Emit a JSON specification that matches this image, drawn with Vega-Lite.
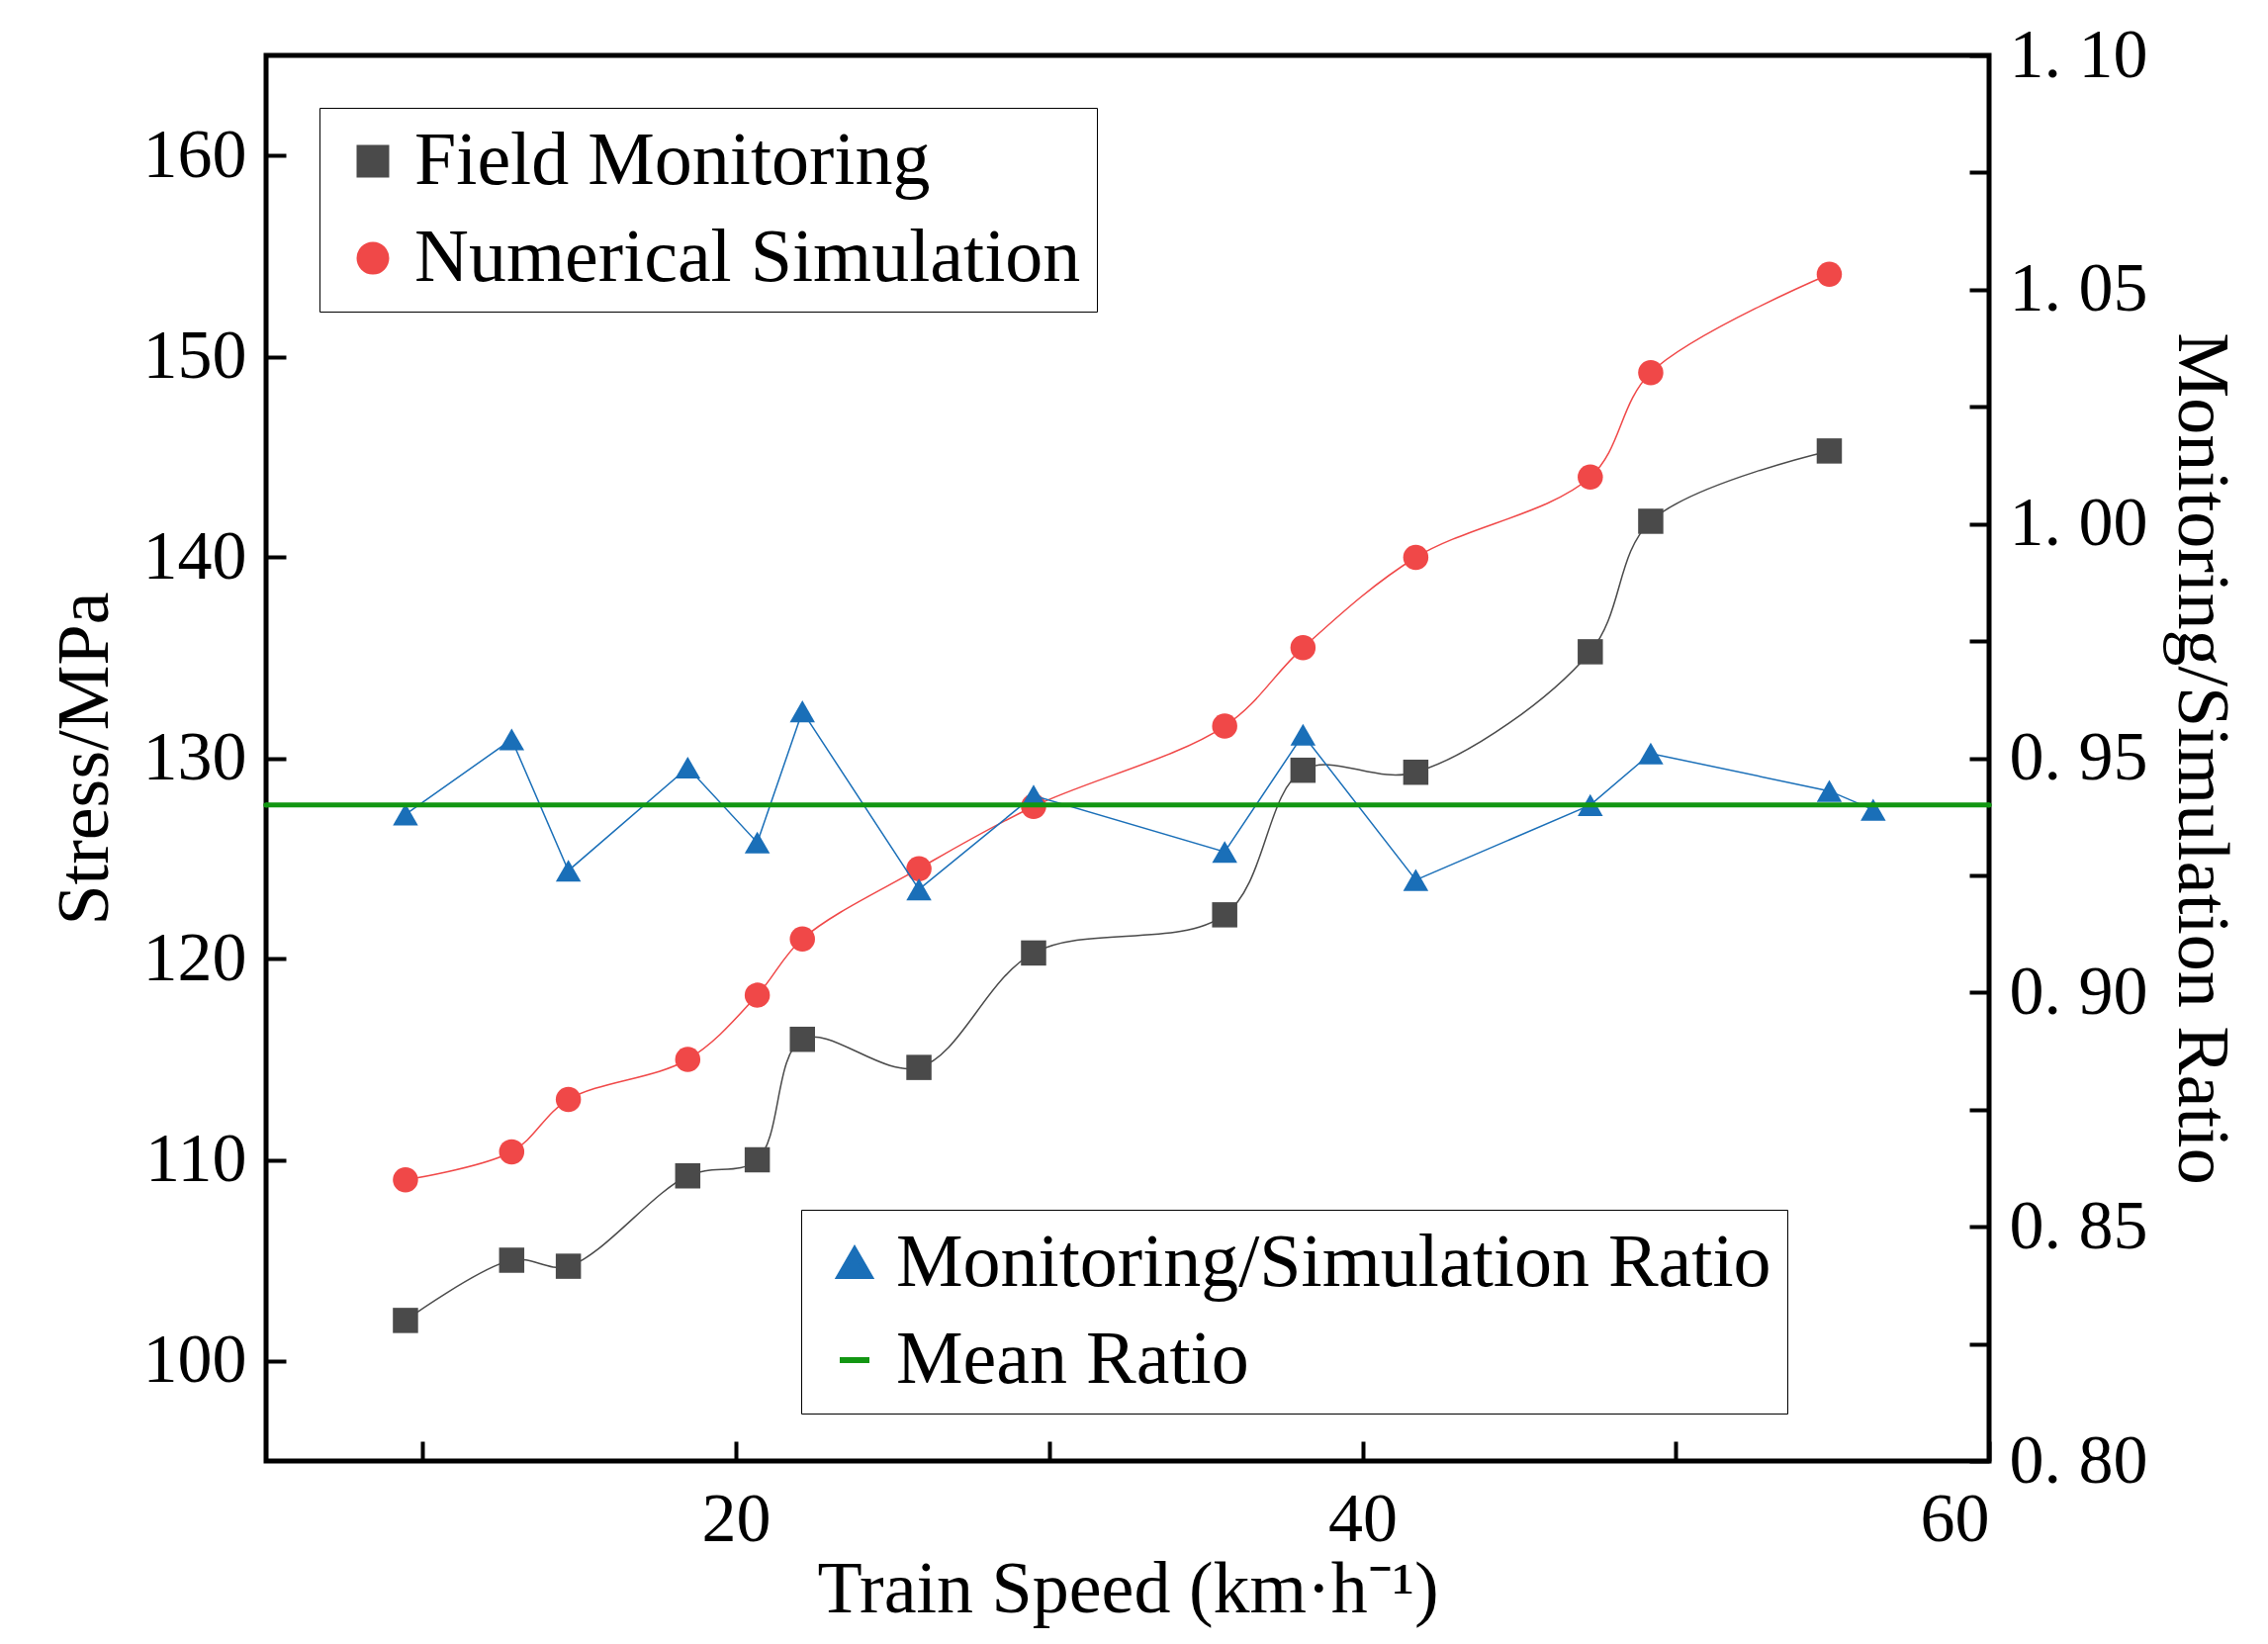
{
  "$schema": "https://vega.github.io/schema/vega-lite/v6.json",
  "width": 1742,
  "height": 1421,
  "autosize": {"type": "none"},
  "padding": {"left": 269, "top": 56, "right": 282, "bottom": 185},
  "background": "white",
  "config": {
    "font": "Liberation Serif",
    "view": {"stroke": "black", "strokeWidth": 5},
    "axis": {"labelFont": "Liberation Serif", "titleFont": "Liberation Serif", "labelFontSize": 70, "titleFontSize": 74, "titleFontWeight": "normal", "labelColor": "black", "titleColor": "black", "domain": false, "grid": false, "tickColor": "black", "tickWidth": 4, "tickSize": -20, "labelPadding": 40},
    "legend": {"labelFont": "Liberation Serif", "labelFontSize": 76, "labelColor": "black", "strokeColor": "black", "fillColor": "white", "padding": 16, "rowPadding": 22, "symbolSize": 900, "symbolStrokeWidth": 3, "labelLimit": 1300}
  },
  "datasets": {
    "stress": [
      {"speed": 9.45, "stress": 102.0, "series": "Field Monitoring"},
      {"speed": 12.84, "stress": 105.0, "series": "Field Monitoring"},
      {"speed": 14.65, "stress": 104.7, "series": "Field Monitoring"},
      {"speed": 18.46, "stress": 109.2, "series": "Field Monitoring"},
      {"speed": 20.68, "stress": 110.0, "series": "Field Monitoring"},
      {"speed": 22.12, "stress": 116.0, "series": "Field Monitoring"},
      {"speed": 25.84, "stress": 114.6, "series": "Field Monitoring"},
      {"speed": 29.5, "stress": 120.3, "series": "Field Monitoring"},
      {"speed": 35.6, "stress": 122.2, "series": "Field Monitoring"},
      {"speed": 38.1, "stress": 129.4, "series": "Field Monitoring"},
      {"speed": 41.7, "stress": 129.3, "series": "Field Monitoring"},
      {"speed": 47.27, "stress": 135.3, "series": "Field Monitoring"},
      {"speed": 49.2, "stress": 141.8, "series": "Field Monitoring"},
      {"speed": 54.9, "stress": 145.3, "series": "Field Monitoring"},
      {"speed": 9.45, "stress": 109.0, "series": "Numerical Simulation"},
      {"speed": 12.84, "stress": 110.4, "series": "Numerical Simulation"},
      {"speed": 14.65, "stress": 113.0, "series": "Numerical Simulation"},
      {"speed": 18.46, "stress": 115.0, "series": "Numerical Simulation"},
      {"speed": 20.68, "stress": 118.2, "series": "Numerical Simulation"},
      {"speed": 22.12, "stress": 121.0, "series": "Numerical Simulation"},
      {"speed": 25.84, "stress": 124.5, "series": "Numerical Simulation"},
      {"speed": 29.5, "stress": 127.6, "series": "Numerical Simulation"},
      {"speed": 35.6, "stress": 131.6, "series": "Numerical Simulation"},
      {"speed": 38.1, "stress": 135.5, "series": "Numerical Simulation"},
      {"speed": 41.7, "stress": 140.0, "series": "Numerical Simulation"},
      {"speed": 47.27, "stress": 144.0, "series": "Numerical Simulation"},
      {"speed": 49.2, "stress": 149.2, "series": "Numerical Simulation"},
      {"speed": 54.9, "stress": 154.1, "series": "Numerical Simulation"}
    ],
    "ratio": [
      {"speed": 9.45, "ratio": 0.938, "series": "Monitoring/Simulation Ratio"},
      {"speed": 12.84, "ratio": 0.954, "series": "Monitoring/Simulation Ratio"},
      {"speed": 14.65, "ratio": 0.926, "series": "Monitoring/Simulation Ratio"},
      {"speed": 18.46, "ratio": 0.948, "series": "Monitoring/Simulation Ratio"},
      {"speed": 20.68, "ratio": 0.932, "series": "Monitoring/Simulation Ratio"},
      {"speed": 22.12, "ratio": 0.960, "series": "Monitoring/Simulation Ratio"},
      {"speed": 25.84, "ratio": 0.922, "series": "Monitoring/Simulation Ratio"},
      {"speed": 29.5, "ratio": 0.942, "series": "Monitoring/Simulation Ratio"},
      {"speed": 35.6, "ratio": 0.930, "series": "Monitoring/Simulation Ratio"},
      {"speed": 38.1, "ratio": 0.955, "series": "Monitoring/Simulation Ratio"},
      {"speed": 41.7, "ratio": 0.924, "series": "Monitoring/Simulation Ratio"},
      {"speed": 47.27, "ratio": 0.940, "series": "Monitoring/Simulation Ratio"},
      {"speed": 49.2, "ratio": 0.951, "series": "Monitoring/Simulation Ratio"},
      {"speed": 54.9, "ratio": 0.943, "series": "Monitoring/Simulation Ratio"},
      {"speed": 56.3, "ratio": 0.939, "series": "Monitoring/Simulation Ratio"}
    ],
    "mean": [
      {"speed": 5, "ratio": 0.940, "series": "Mean Ratio"},
      {"speed": 60, "ratio": 0.940, "series": "Mean Ratio"}
    ]
  },
  "encoding": {
    "x": {"field": "speed", "type": "quantitative", "scale": {"domain": [5, 60], "nice": false}, "axis": {"values": [10, 20, 30, 40, 50, 60], "labelExpr": "datum.value % 20 == 0 ? datum.value : ''", "title": "Train Speed (km·h⁻¹)", "titlePadding": 0, "labelPadding": 45}}
  },
  "layer": [
    {
      "data": {"name": "stress"},
      "encoding": {
        "y": {"field": "stress", "type": "quantitative", "scale": {"domain": [95, 165], "nice": false}, "axis": {"values": [100, 110, 120, 130, 140, 150, 160], "title": "Stress/MPa", "titlePadding": 20}},
        "color": {"field": "series", "type": "nominal", "scale": {"domain": ["Field Monitoring", "Numerical Simulation"], "range": ["#4a4a4a", "#f04848"]}, "legend": {"title": null, "orient": "none", "legendX": 54, "legendY": 53}},
        "shape": {"field": "series", "type": "nominal", "scale": {"domain": ["Field Monitoring", "Numerical Simulation"], "range": ["square", "circle"]}, "legend": {"title": null, "orient": "none", "legendX": 54, "legendY": 53}}
      },
      "layer": [
        {"mark": {"type": "line", "interpolate": "catmull-rom", "strokeWidth": 1.5}, "encoding": {"shape": {"value": null}}},
        {"mark": {"type": "point", "filled": true, "opacity": 1, "size": 650}}
      ]
    },
    {
      "encoding": {
        "y": {"field": "ratio", "type": "quantitative", "scale": {"domain": [0.8, 1.1], "nice": false}, "axis": {"orient": "right", "values": [0.8, 0.825, 0.85, 0.875, 0.9, 0.925, 0.95, 0.975, 1.0, 1.025, 1.05, 1.075, 1.1], "labelExpr": "abs(datum.value*40 - round(datum.value*40)) < 0.01 && round(datum.value*40) % 2 == 0 ? replace(format(datum.value, '.2f'), '.', '. ') : ''", "title": "Monitoring/Simulation Ratio", "titlePadding": 15}},
        "color": {"field": "series", "type": "nominal", "scale": {"domain": ["Monitoring/Simulation Ratio", "Mean Ratio"], "range": ["#1a6fb8", "#129612"]}, "legend": {"title": null, "orient": "none", "legendX": 541, "legendY": 1167}},
        "shape": {"field": "series", "type": "nominal", "scale": {"domain": ["Monitoring/Simulation Ratio", "Mean Ratio"], "range": ["triangle-up", "stroke"]}, "legend": {"title": null, "orient": "none", "legendX": 541, "legendY": 1167, "symbolStrokeWidth": 6}}
      },
      "layer": [
        {"data": {"name": "ratio"}, "mark": {"type": "line", "strokeWidth": 1.5}, "encoding": {"shape": {"value": null}}},
        {"data": {"name": "ratio"}, "mark": {"type": "point", "filled": true, "opacity": 1, "size": 650}},
        {"data": {"name": "mean"}, "mark": {"type": "line", "strokeWidth": 5}, "encoding": {"shape": {"value": null}}}
      ]
    }
  ],
  "resolve": {"scale": {"y": "independent", "color": "independent", "shape": "independent"}}
}
